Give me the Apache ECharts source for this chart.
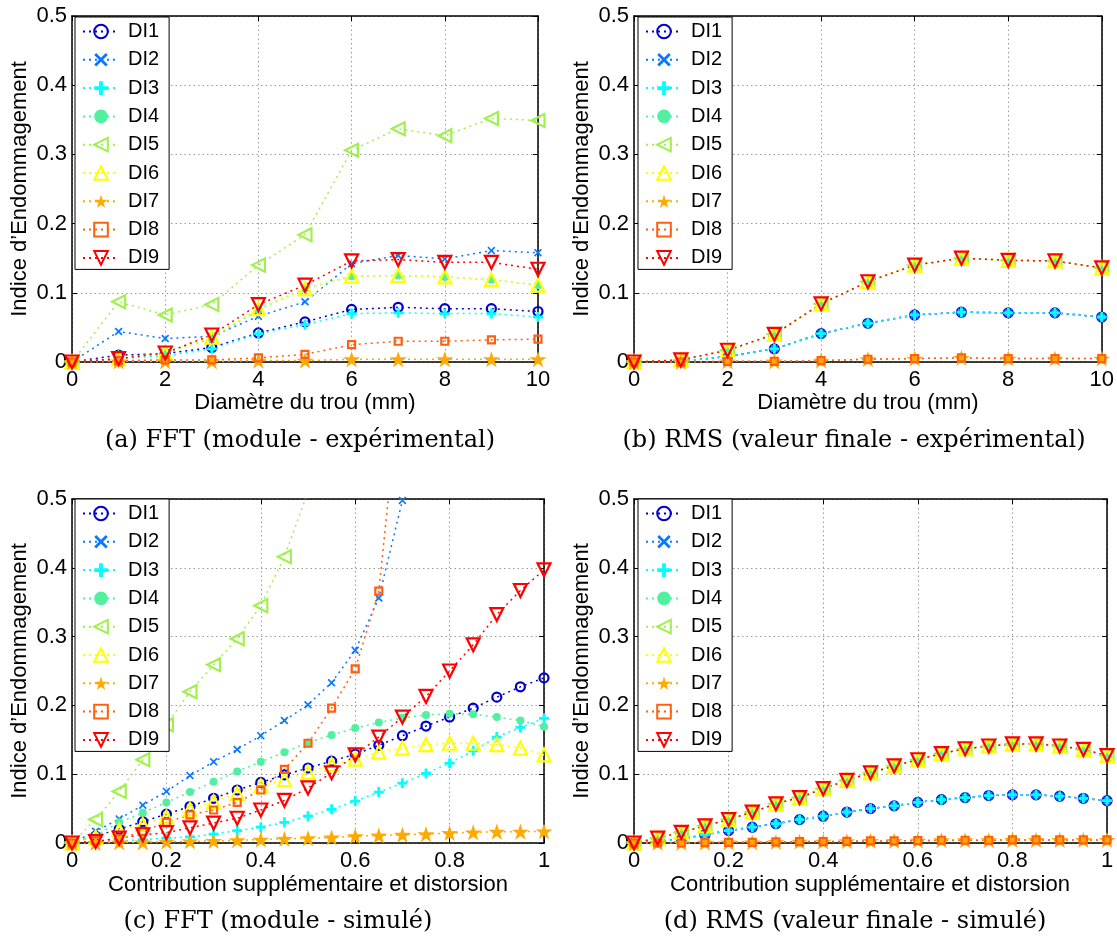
<!DOCTYPE html>
<html>
<head>
<meta charset="utf-8">
<script src="https://cdn.jsdelivr.net/npm/echarts@6/dist/echarts.min.js"></script>
<style>html,body{margin:0;padding:0;background:#fff}#chart{width:1117px;height:936px}</style>
</head>
<body>
<div id="chart"></div>
<script>
// ---------- data ----------
const seriesNames = ['DI1','DI2','DI3','DI4','DI5','DI6','DI7','DI8','DI9'];
const xExp = [0,1,2,3,4,5,6,7,8,9,10];
const xSim = [0,0.05,0.1,0.15,0.2,0.25,0.3,0.35,0.4,0.45,0.5,0.55,0.6,0.65,0.7,0.75,0.8,0.85,0.9,0.95,1];
const yTickVals = [0,0.1,0.2,0.3,0.4,0.5];

// (a) FFT experimental
const a_DI1 = [0,0.010,0.012,0.021,0.042,0.058,0.076,0.079,0.077,0.077,0.073];
const a_DI2 = [0,0.044,0.034,0.037,0.066,0.087,0.142,0.154,0.149,0.161,0.158];
const a_DI3 = [0,0.005,0.009,0.019,0.041,0.054,0.070,0.071,0.070,0.070,0.065];
const a_DI4 = [0,0.004,0.014,0.034,0.076,0.106,0.124,0.125,0.123,0.119,0.111];
const a_DI5 = [0,0.087,0.068,0.083,0.140,0.184,0.306,0.337,0.327,0.352,0.349];
const a_DI6 = [0,0.005,0.013,0.036,0.077,0.106,0.124,0.125,0.123,0.119,0.111];
const a_DI7 = [0,0.001,0.001,0.001,0.002,0.002,0.004,0.004,0.004,0.004,0.004];
const a_DI8 = [0,0.002,0.003,0.003,0.006,0.011,0.025,0.030,0.030,0.032,0.033];
const a_DI9 = [0,0.005,0.013,0.039,0.083,0.111,0.146,0.148,0.144,0.144,0.134];

// (b) RMS experimental
const b_DI1 = [0,0.001,0.008,0.019,0.041,0.056,0.068,0.072,0.071,0.071,0.065];
const b_DI2 = [0,0.001,0.008,0.019,0.041,0.056,0.068,0.072,0.071,0.071,0.065];
const b_DI3 = [0,0.001,0.008,0.019,0.041,0.056,0.068,0.072,0.071,0.071,0.065];
const b_DI4 = [0,0.003,0.017,0.040,0.084,0.116,0.140,0.150,0.147,0.146,0.136];
const b_DI5 = [0,0.003,0.017,0.040,0.084,0.116,0.140,0.150,0.147,0.146,0.136];
const b_DI6 = [0,0.003,0.017,0.040,0.084,0.116,0.140,0.150,0.147,0.146,0.136];
const b_DI7 = [0,0,0.001,0.001,0.002,0.004,0.005,0.006,0.005,0.005,0.005];
const b_DI8 = [0,0,0.001,0.001,0.002,0.004,0.005,0.006,0.005,0.005,0.005];
const b_DI9 = [0,0.003,0.017,0.040,0.084,0.116,0.140,0.150,0.147,0.146,0.136];

// (c) FFT simulated (null = beyond the visible range)
const c_DI1 = [0,0.010,0.020,0.031,0.042,0.053,0.065,0.077,0.088,0.099,0.109,0.119,0.129,0.142,0.156,0.170,0.183,0.196,0.212,0.227,0.240];
const c_DI2 = [0,0.017,0.035,0.055,0.075,0.098,0.118,0.136,0.156,0.178,0.201,0.233,0.280,0.356,0.498,null,null,null,null,null,null];
const c_DI3 = [0,0.002,0.003,0.005,0.007,0.009,0.013,0.018,0.023,0.030,0.039,0.049,0.061,0.074,0.087,0.101,0.116,0.134,0.154,0.168,0.181];
const c_DI4 = [0,0.011,0.030,0.044,0.059,0.074,0.089,0.104,0.118,0.132,0.146,0.157,0.167,0.175,0.182,0.186,0.188,0.187,0.183,0.178,0.169];
const c_DI5 = [0,0.034,0.075,0.121,0.172,0.220,0.259,0.297,0.345,0.416,0.511,null,null,null,null,null,null,null,null,null,null];
const c_DI6 = [0,0.008,0.019,0.027,0.038,0.049,0.060,0.072,0.083,0.092,0.103,0.114,0.122,0.132,0.138,0.143,0.145,0.145,0.143,0.138,0.128];
const c_DI7 = [0,0,0.001,0.001,0.002,0.0025,0.003,0.004,0.005,0.006,0.007,0.008,0.010,0.011,0.012,0.013,0.0145,0.0155,0.0165,0.0165,0.017];
const c_DI8 = [0,0.003,0.006,0.017,0.030,0.041,0.048,0.059,0.077,0.107,0.145,0.196,0.253,0.366,0.700,null,null,null,null,null,null];
const c_DI9 = [0,0.002,0.007,0.012,0.015,0.022,0.029,0.036,0.048,0.062,0.080,0.102,0.128,0.154,0.183,0.213,0.250,0.288,0.332,0.367,0.397];

// (d) RMS simulated
const d_mid = [0,0.002,0.006,0.012,0.018,0.023,0.028,0.034,0.039,0.045,0.050,0.054,0.059,0.063,0.066,0.069,0.070,0.070,0.068,0.065,0.0615];
const d_up  = [0,0.007,0.0155,0.025,0.034,0.045,0.057,0.066,0.079,0.091,0.102,0.112,0.121,0.130,0.137,0.141,0.144,0.144,0.141,0.136,0.127];
const d_low = [0,0,0,0.0005,0.001,0.001,0.0015,0.002,0.002,0.0025,0.003,0.003,0.0035,0.004,0.004,0.004,0.0045,0.0045,0.0045,0.0045,0.0045];
const d_DI1 = d_mid, d_DI2 = d_mid, d_DI3 = d_mid;
const d_DI4 = d_up, d_DI5 = d_up, d_DI6 = d_up, d_DI9 = d_up;
const d_DI7 = d_low, d_DI8 = d_low;

const captions = ['(a) FFT (module - expérimental)','(b) RMS (valeur finale - expérimental)','(c) FFT (module - simulé)','(d) RMS (valeur finale - simulé)'];
const xTitles = ['Diamètre du trou (mm)','Diamètre du trou (mm)','Contribution supplémentaire et distorsion','Contribution supplémentaire et distorsion'];
const yTitle = 'Indice d’Endommagement';

// ---------- styles / layout ----------
const colors = ['#0000cc','#0a78ff','#00ffff','#50f0a0','#a0f050','#ffff00','#ffaa00','#ff6010','#ff0000'];
const X_PATH = 'path://M1.5,0 L5,3.5 L8.5,0 L10,1.5 L6.5,5 L10,8.5 L8.5,10 L5,6.5 L1.5,10 L0,8.5 L3.5,5 L0,1.5 Z';
const PLUS_PATH = 'path://M3.6,0 L6.4,0 L6.4,3.6 L10,3.6 L10,6.4 L6.4,6.4 L6.4,10 L3.6,10 L3.6,6.4 L0,6.4 L0,3.6 L3.6,3.6 Z';
const STAR_PATH = 'path://M50,0 L61.17,34.63 L97.55,34.55 L68.07,55.87 L79.39,90.45 L50,69 L20.61,90.45 L31.93,55.87 L2.45,34.55 L38.83,34.63 Z';
const markers = [
  {symbol:'circle', size:9, fill:false},
  {symbol:X_PATH, size:8, fill:true},
  {symbol:PLUS_PATH, size:10, fill:true},
  {symbol:'circle', size:8, fill:true},
  {symbol:'triangle', size:13, rotate:90, fill:false},
  {symbol:'triangle', size:13, fill:false},
  {symbol:STAR_PATH, size:17, fill:true},
  {symbol:'rect', size:7, fill:false},
  {symbol:'triangle', size:13, rotate:180, fill:false}
];
const FONT = 'Liberation Sans';
const grids = [
  {left:72, top:16, width:466, height:346},
  {left:634, top:16, width:468, height:346},
  {left:72, top:499, width:472, height:344},
  {left:634, top:499, width:473, height:344}
];
const panels = [
  {x:xExp, max:10, interval:2, data:[a_DI1,a_DI2,a_DI3,a_DI4,a_DI5,a_DI6,a_DI7,a_DI8,a_DI9]},
  {x:xExp, max:10, interval:2, data:[b_DI1,b_DI2,b_DI3,b_DI4,b_DI5,b_DI6,b_DI7,b_DI8,b_DI9]},
  {x:xSim, max:1, interval:0.2, data:[c_DI1,c_DI2,c_DI3,c_DI4,c_DI5,c_DI6,c_DI7,c_DI8,c_DI9]},
  {x:xSim, max:1, interval:0.2, data:[d_DI1,d_DI2,d_DI3,d_DI4,d_DI5,d_DI6,d_DI7,d_DI8,d_DI9]}
];
const captionPos = [[300,441],[854,441],[278,922],[855,922]];
const xTitlePos = [[305,403],[868,403],[308,885],[870,885]];
const yTitlePos = [[20,189],[582,189],[20,671],[582,671]];
const legendPos = [[75,17],[638,17],[75,499],[638,499]];

const axisLineStyle = {color:'#000', width:1.5};
const gridLineStyle = {color:'#9a9a9a', width:1, type:[1.5,3]};

const xAxes = [], yAxes = [], series = [], legends = [], graphics = [];
panels.forEach((p, g) => {
  xAxes.push({
    gridIndex:g, type:'value', position:'bottom', min:0, max:p.max, interval:p.interval,
    axisLine:{show:true, onZero:false, lineStyle:axisLineStyle},
    axisTick:{show:true, inside:true, length:5, lineStyle:{color:'#000', width:1}},
    axisLabel:{show:true, margin:7, fontSize:22, fontFamily:FONT, color:'#000'},
    splitLine:{show:true, lineStyle:gridLineStyle}
  });
  xAxes.push({
    gridIndex:g, type:'value', position:'top', min:0, max:p.max, interval:p.interval,
    axisLine:{show:true, onZero:false, lineStyle:axisLineStyle},
    axisTick:{show:true, inside:true, length:5, lineStyle:{color:'#000', width:1}},
    axisLabel:{show:false}, splitLine:{show:false}
  });
  yAxes.push({
    gridIndex:g, type:'value', position:'left', min:yTickVals[0], max:yTickVals[yTickVals.length-1], interval:0.1,
    axisLine:{show:true, onZero:false, lineStyle:axisLineStyle},
    axisTick:{show:true, inside:true, length:5, lineStyle:{color:'#000', width:1}},
    axisLabel:{show:true, margin:5, fontSize:22, fontFamily:FONT, color:'#000'},
    splitLine:{show:true, lineStyle:gridLineStyle}
  });
  yAxes.push({
    gridIndex:g, type:'value', position:'right', min:yTickVals[0], max:yTickVals[yTickVals.length-1], interval:0.1,
    axisLine:{show:true, onZero:false, lineStyle:axisLineStyle},
    axisTick:{show:true, inside:true, length:5, lineStyle:{color:'#000', width:1}},
    axisLabel:{show:false}, splitLine:{show:false}
  });
  p.data.forEach((arr, k) => {
    const m = markers[k], c = colors[k];
    series.push({
      type:'line', name:seriesNames[k], xAxisIndex:2*g, yAxisIndex:2*g,
      data:p.x.map((x,i)=>[x, arr[i]]),
      symbol:m.symbol, symbolSize:m.size, symbolRotate:m.rotate||0, symbolKeepAspect:true,
      itemStyle: m.fill ? {color:c, borderWidth:0} : {color:'rgba(255,255,255,0)', borderColor:c, borderWidth:2.2},
      lineStyle:{color:c, width:1.5, type:[2,4]},
      emphasis:{disabled:true}, clip:true, animation:false, z:2
    });
  });
  legends.push({
    orient:'vertical', left:legendPos[g][0], top:legendPos[g][1],
    data:seriesNames, selectedMode:false,
    itemWidth:36, itemHeight:17, itemGap:8.3,
    padding:[4.5,10,1.5,7],
    backgroundColor:'#fff', borderColor:'#000', borderWidth:1, borderRadius:0,
    textStyle:{fontSize:20, lineHeight:20, fontFamily:FONT, color:'#000', padding:[0,0,0,4]},
    z:10
  });
  graphics.push({type:'text', x:yTitlePos[g][0], y:yTitlePos[g][1], rotation:Math.PI/2,
    style:{text:yTitle, font:'22px "Liberation Sans"', fill:'#000', align:'center', verticalAlign:'middle'}});
  graphics.push({type:'text', x:xTitlePos[g][0], y:xTitlePos[g][1],
    style:{text:xTitles[g], font:'22px "Liberation Sans"', fill:'#000', align:'center', verticalAlign:'middle'}});
  graphics.push({type:'text', x:captionPos[g][0], y:captionPos[g][1],
    style:{text:captions[g], font:'24px "DejaVu Serif"', fill:'#000', align:'center', verticalAlign:'middle'}});
});

const chart = echarts.init(document.getElementById('chart'), null, {renderer:'canvas'});
chart.setOption({
  animation:false,
  backgroundColor:'#fff',
  grid:grids.map(gr => Object.assign({containLabel:false, show:false}, gr)),
  xAxis:xAxes, yAxis:yAxes, legend:legends, series:series, graphic:graphics
});
</script>
</body>
</html>
